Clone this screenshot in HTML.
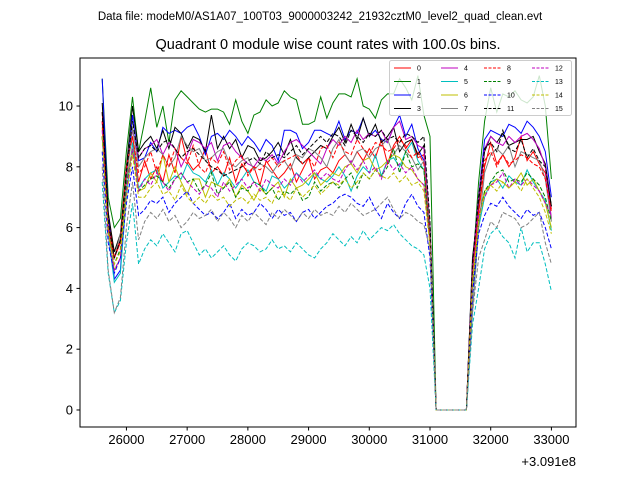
<!DOCTYPE html>
<html><head><meta charset="utf-8"><style>
html,body{margin:0;padding:0;background:#fff;}
svg{display:block;font-family:"Liberation Sans","DejaVu Sans",sans-serif;}
</style></head><body>
<svg id="chart" width="640" height="480" viewBox="0 0 640 480">
<text x="320" y="20" font-size="11.5" text-anchor="middle">Data file: modeM0/AS1A07_100T03_9000003242_21932cztM0_level2_quad_clean.evt</text>
<text x="328" y="49" font-size="14.5" text-anchor="middle">Quadrant 0 module wise count rates with 100.0s bins.</text>
<g id="plot"></g>
<rect x="80" y="58" width="496" height="369" fill="none" stroke="#000" stroke-width="1"/>
<g id="xt"></g>
<g id="yt"></g>
<text x="576" y="466" font-size="13" text-anchor="end">+3.091e8</text>
<g id="legend"></g>
</svg>
<script>
const xTicks = [26000,27000,28000,29000,30000,31000,32000,33000];
const yTicks = [0,2,4,6,8,10];
const seriesNames = ["0","1","2","3","4","5","6","7","8","9","10","11","12","13","14","15"];
const colors = ["#ff0000","#008000","#0000ff","#000000","#bf00bf","#00bfbf","#bfbf00","#808080","#ff0000","#008000","#0000ff","#000000","#bf00bf","#00bfbf","#bfbf00","#808080"];
const times = [];
for (let i = 0; i < 75; i++) times.push(25600 + 100 * i);
const Z = [0,0,0,0,0,0];
const s0 = [9.8,6.5,5.0,5.5,8.0,9.0,7.5, 8.2,7.6,8.0,7.5,8.4,7.8,9.0,8.2,7.9,8.1,8.6,7.8,8.0,7.7,8.3,7.5,8.1,7.8,8.0,7.4,8.2,7.9,7.6,7.8,8.1,7.5,7.9,8.3,7.6,7.9,8.0,7.8,8.2,8.4,8.1,8.5,8.2,8.6,8.3,8.9,8.1,8.7,9.0,8.6,8.9,8.3,8.4, 6.0, ...Z, 4.6,6.5,8.0,8.8,8.1,8.4,8.0,8.3,9.0,8.2,8.5,8.1,7.8,6.6];
const s1 = [10.9,7.0,6.0,6.3,8.5,10.3,8.5, 9.5,10.6,9.3,10.0,8.8,10.2,10.5,10.3,10.1,9.9,9.8,9.9,9.9,9.8,9.4,10.2,9.5,9.1,9.7,9.8,10.2,10.0,10.1,10.5,10.3,10.2,9.4,9.4,9.5,10.3,9.6,10.1,10.4,10.4,10.3,10.9,10.0,9.9,9.6,10.2,10.4,10.4,10.9,10.6,10.2,11.0,9.7, 9.0, ...Z, 4.6,7.5,9.5,10.6,9.8,10.4,10.3,10.5,10.2,10.1,10.3,11.0,10.0,7.6];
const s2 = [10.9,6.5,4.3,4.6,7.5,9.7,8.2, 8.3,8.8,8.5,9.3,9.1,9.2,9.1,9.3,9.4,9.0,8.4,9.0,9.1,8.9,9.2,9.0,8.7,9.0,8.8,8.5,8.9,8.7,8.2,9.2,9.2,9.1,8.6,8.8,9.2,9.2,9.1,9.0,9.5,8.9,9.2,9.1,9.6,9.0,9.2,8.9,8.8,9.3,9.7,9.0,9.4,8.6,8.2, 6.0, ...Z, 4.8,7.0,8.9,9.2,9.1,9.0,9.4,9.3,9.1,9.5,9.3,9.0,8.5,7.0];
const s3 = [10.1,6.5,5.2,5.8,8.0,10.0,8.5, 8.8,9.0,8.6,9.2,8.6,9.3,9.1,8.6,9.0,8.9,8.5,9.7,8.6,9.0,8.6,8.9,8.3,8.7,8.6,8.2,8.3,8.5,8.8,8.4,8.9,8.3,8.1,8.3,8.5,8.7,8.6,9.0,9.3,8.8,9.4,8.9,9.6,9.0,9.4,8.8,9.0,9.3,8.5,8.8,8.9,8.4,8.7, 6.0, ...Z, 5.0,6.8,8.5,9.0,8.8,9.1,8.7,8.8,8.9,8.9,9.0,8.5,8.1,6.7];
const s4 = [9.5,6.0,5.0,5.6,7.8,9.2,8.3, 8.6,8.7,8.9,8.4,8.8,8.6,8.0,8.4,8.9,8.8,8.6,8.8,8.2,8.7,8.8,8.5,8.3,8.1,8.0,8.3,8.2,8.4,8.1,8.5,8.8,8.9,8.7,8.5,8.3,8.1,8.6,8.9,8.7,9.0,8.8,9.2,8.9,9.1,9.0,9.2,8.8,9.3,9.5,8.9,9.0,8.7,8.6, 6.0, ...Z, 4.7,7.0,8.6,9.0,8.8,8.7,9.0,8.8,9.0,9.1,8.9,8.6,8.0,6.3];
const s5 = [9.0,5.8,4.2,4.5,7.0,8.8,7.3, 7.6,7.8,7.9,7.3,7.5,7.7,7.6,8.1,7.8,7.7,7.5,7.9,7.4,7.8,7.6,7.3,7.6,7.9,7.5,7.4,7.2,7.7,7.6,7.3,7.5,7.8,7.6,7.4,7.8,7.6,7.5,7.7,8.0,7.7,7.2,7.7,8.0,7.8,8.4,7.7,8.2,8.3,8.0,8.5,8.8,8.2,7.9, 5.5, ...Z, 3.2,6.0,7.0,7.5,7.6,7.3,7.7,7.5,7.4,7.9,7.5,7.2,6.9,5.9];
const s6 = [9.3,6.0,4.6,5.0,7.5,8.6,7.2, 7.3,7.8,7.5,8.4,7.5,8.0,7.5,7.1,7.6,7.6,7.0,7.5,7.4,7.3,7.6,7.0,7.4,7.2,6.9,7.3,7.1,7.3,7.5,7.0,7.6,7.3,7.4,7.6,7.8,7.4,7.6,7.8,7.7,8.0,8.1,7.8,8.2,8.3,7.9,8.0,8.2,8.4,8.3,8.0,7.9,7.6,7.4, 5.5, ...Z, 4.0,6.3,7.2,7.4,7.6,7.5,7.3,7.5,7.8,7.4,7.6,7.2,6.8,6.0];
const s7 = [9.0,6.0,5.0,5.8,7.5,9.3,8.0, 8.3,8.5,8.6,8.4,8.0,8.3,9.0,8.7,8.5,8.6,8.2,8.3,8.5,8.6,8.1,8.0,8.2,8.3,7.9,8.1,8.0,7.8,8.1,8.2,7.9,8.4,8.3,8.6,8.5,8.3,8.0,8.6,8.9,8.4,8.1,8.5,8.6,8.3,8.6,8.7,8.9,8.4,8.7,8.5,8.3,7.9,8.2, 5.8, ...Z, 3.3,6.0,7.8,8.4,8.6,8.4,8.7,8.0,8.5,8.4,8.3,8.2,7.6,6.2];
const s8 = [9.5,6.0,5.0,5.6,8.0,9.0,7.8, 8.0,8.5,7.8,8.4,8.0,8.6,8.3,8.1,8.7,8.0,7.8,8.3,8.1,8.5,7.9,8.2,8.4,7.7,8.0,7.9,8.1,8.3,8.0,8.2,8.3,8.4,8.1,8.3,8.0,8.6,8.7,8.3,8.8,8.5,8.4,8.9,8.6,8.4,8.8,8.7,8.5,8.6,8.9,8.7,8.3,8.5,8.1, 5.6, ...Z, 4.5,6.5,8.2,8.5,8.0,8.4,8.1,8.2,8.4,8.3,8.1,8.0,7.6,6.5];
const s9 = [9.0,5.8,4.8,5.3,7.4,8.5,7.2, 7.4,7.6,7.7,7.5,7.3,7.6,7.8,7.5,7.6,7.2,7.4,7.8,7.1,7.3,7.5,7.0,7.3,7.2,7.5,7.4,7.1,7.3,6.9,7.2,7.1,7.3,6.9,7.0,7.5,7.2,7.4,7.5,7.3,7.6,7.8,7.3,7.8,7.6,7.9,7.7,8.0,8.6,7.8,8.5,8.0,8.1,7.9, 5.5, ...Z, 4.0,6.2,7.2,7.5,7.8,7.9,7.5,7.6,7.5,7.8,7.6,7.4,7.0,6.2];
const s10 = [8.5,5.5,4.5,5.0,6.8,8.0,6.4, 6.6,6.9,6.8,7.0,6.5,6.8,7.0,7.2,6.8,6.6,6.4,6.5,6.3,6.5,6.8,6.3,6.6,6.4,6.5,6.8,6.6,6.3,6.6,6.4,6.5,6.2,6.5,6.6,6.3,6.5,6.7,6.8,7.0,7.1,7.0,6.8,6.7,7.0,6.6,6.3,6.8,6.5,6.3,6.8,7.1,6.7,6.5, 5.0, ...Z, 3.8,5.8,6.4,6.8,6.7,7.0,6.7,6.5,6.3,6.6,6.4,6.5,6.0,5.3];
const s11 = [9.8,6.2,5.0,5.6,7.8,9.5,8.3, 8.6,8.7,8.5,8.8,8.9,8.6,8.3,8.5,8.6,8.4,8.2,8.0,7.9,7.7,7.8,7.9,8.0,8.2,8.3,8.1,8.5,8.3,8.4,8.3,8.5,8.7,8.4,8.6,8.8,9.0,8.8,9.1,9.0,8.7,9.2,9.0,8.8,9.1,9.0,9.2,8.9,9.0,8.8,9.1,9.0,8.8,9.0, 6.2, ...Z, 4.8,7.0,8.6,8.8,8.5,9.2,8.6,8.5,8.9,8.3,8.6,8.2,8.0,6.7];
const s12 = [9.2,5.8,4.6,5.0,7.2,8.6,7.2, 7.6,7.4,7.8,7.5,7.2,7.6,7.8,7.5,7.3,7.1,7.4,7.3,7.0,7.5,7.2,7.4,7.6,7.3,7.5,7.2,7.6,7.4,7.3,7.6,7.4,7.8,7.5,7.7,7.9,7.6,7.8,7.6,7.5,7.9,8.2,7.9,8.2,7.8,8.0,7.6,8.2,7.9,8.1,7.8,8.0,7.6,7.4, 5.5, ...Z, 4.2,6.4,7.0,7.4,7.5,7.8,7.3,7.6,7.4,7.6,7.4,7.2,6.8,6.4];
const s13 = [7.5,4.5,3.2,3.6,5.5,6.8,4.8, 5.3,5.6,5.4,5.8,5.5,5.2,5.8,5.9,5.5,5.1,5.3,5.0,5.2,5.4,5.1,4.9,5.3,5.5,5.4,5.2,5.3,5.6,5.3,5.4,5.2,5.5,5.3,5.1,5.0,5.3,5.5,5.8,5.6,5.4,5.7,5.5,5.9,5.6,5.8,6.0,5.9,6.1,5.8,5.6,5.4,5.3,5.1, 4.0, ...Z, 2.8,4.0,5.3,5.8,6.0,5.7,5.5,5.0,6.0,5.2,5.5,5.5,4.8,3.9];
const s14 = [9.0,5.8,4.8,5.2,7.0,8.4,7.0, 7.0,7.3,7.5,7.1,7.2,6.9,7.4,7.0,6.8,7.0,6.8,7.1,6.9,7.0,6.7,6.9,7.0,6.8,7.1,6.9,7.0,6.8,7.2,7.1,6.9,7.3,7.0,7.2,7.4,7.1,7.3,7.5,7.4,7.6,7.3,7.5,7.8,7.6,7.9,7.7,7.6,7.8,7.5,7.7,7.4,7.5,7.2, 5.4, ...Z, 4.2,6.2,7.1,7.4,7.2,7.5,7.3,7.5,7.2,7.6,7.3,7.0,6.5,5.8];
const s15 = [8.0,4.6,3.2,3.7,6.0,7.5,5.6, 6.2,6.5,6.3,6.6,6.2,6.4,6.0,6.2,6.5,6.3,6.4,6.6,6.2,6.5,6.3,6.0,6.4,6.2,6.5,6.3,6.1,6.5,6.3,6.6,6.4,6.2,6.5,6.3,6.6,6.4,6.5,6.4,6.7,6.5,6.8,6.6,6.4,6.5,6.6,6.8,7.0,6.6,6.3,6.5,6.4,6.2,6.1, 5.3, ...Z, 3.2,5.0,5.6,6.2,6.0,6.5,6.4,6.3,6.0,6.1,6.3,6.5,5.5,4.8];
const allSeries = [s0,s1,s2,s3,s4,s5,s6,s7,s8,s9,s10,s11,s12,s13,s14,s15];

const NS = "http://www.w3.org/2000/svg";
const L = 80, R = 576, T = 58, B = 427;
const xMin = 25235, xMax = 33405, yMin = -0.56, yMax = 11.58;
function xs(t){ return L + (t - xMin) / (xMax - xMin) * (R - L); }
function ys(v){ return B - (v - yMin) / (yMax - yMin) * (B - T); }
function mk(tag, attrs, parent){ const e = document.createElementNS(NS, tag); for (const k in attrs) e.setAttribute(k, attrs[k]); parent.appendChild(e); return e; }

const plot = document.getElementById('plot');
allSeries.forEach((s, i) => {
  const pts = s.map((v, j) => xs(times[j]).toFixed(1) + ',' + ys(v).toFixed(1)).join(' ');
  const pl = mk('polyline', {points: pts, fill: 'none', stroke: colors[i], 'stroke-width': 1, 'stroke-dasharray': i >= 8 ? '4,2' : 'none'}, plot);
  
  
});

const xt = document.getElementById('xt');
xTicks.forEach(t => {
  const x = xs(t);
  const ln = mk('line', {x1: x, x2: x, y1: B, y2: B + 3.5, stroke: '#000'}, xt);
  
  
  const tx = mk('text', {x: x, y: B + 17, 'font-size': 13, 'text-anchor': 'middle'}, xt);
  tx.textContent = t;
  
  
});
const yt = document.getElementById('yt');
yTicks.forEach(v => {
  const y = ys(v);
  const ln = mk('line', {x1: L - 3.5, x2: L, y1: y, y2: y, stroke: '#000'}, yt);
  
  
  const tx = mk('text', {x: L - 7, y: y + 4.5, 'font-size': 13, 'text-anchor': 'end'}, yt);
  tx.textContent = v;
  
  
});

const lg = document.getElementById('legend');
const bg = mk('rect', {x: 389.5, y: 60.5, width: 182, height: 55, rx: 2, fill: '#fff', 'fill-opacity': 0.8, stroke: '#ccc', 'stroke-width': 1}, lg);


const colX = [394, 441, 484, 532];
const rowY = [68, 81.5, 95, 108.5];
seriesNames.forEach((n, i) => {
  const c = Math.floor(i / 4), r = i % 4;
  const g = mk('g', {}, lg);
  
  
  mk('line', {x1: colX[c], x2: colX[c] + 17, y1: rowY[r], y2: rowY[r], stroke: colors[i], 'stroke-width': 1, 'stroke-dasharray': i >= 8 ? '3,1.5' : 'none'}, g);
  const tx = mk('text', {x: colX[c] + 23, y: rowY[r] + 2.5, 'font-size': 7}, g);
  tx.textContent = n;
});
</script>
</body></html>
